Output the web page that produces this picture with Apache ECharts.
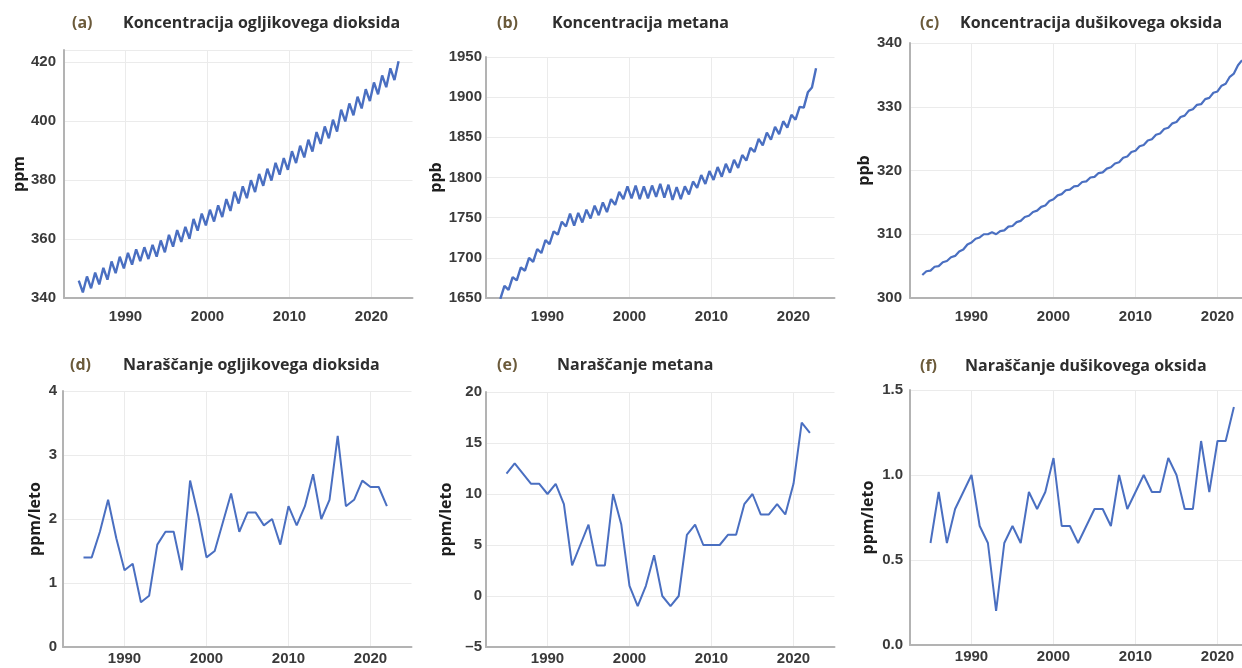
<!DOCTYPE html>
<html><head><meta charset="utf-8">
<script src="https://cdn.jsdelivr.net/npm/echarts@6/dist/echarts.min.js"></script>
<style>html,body{margin:0;padding:0;background:#fff}#c{width:1242px;height:668px}</style>
</head><body><div id="c"></div>
<script>
// ---------- data ----------
const tickYears = [1990, 2000, 2010, 2020];

// monthly concentration series, read as yearly seasonal maxima/minima
const co2Years = [1984,1985,1986,1987,1988,1989,1990,1991,1992,1993,1994,1995,1996,1997,1998,1999,2000,2001,2002,2003,2004,2005,2006,2007,2008,2009,2010,2011,2012,2013,2014,2015,2016,2017,2018,2019,2020,2021,2022,2023];
const co2Peak = [345.9,347.3,348.6,350.2,352.4,354.0,355.3,356.5,357.2,358.0,359.5,361.4,363.0,364.1,366.8,368.6,369.9,371.4,373.5,376.0,377.8,379.9,382.0,383.8,385.8,387.4,389.7,391.6,393.6,396.2,398.1,400.4,403.8,405.9,408.2,410.7,413.0,415.4,417.8,420.2];
const co2Trough = [341.9,343.3,344.6,346.2,348.4,350.0,351.3,352.5,353.2,354.0,355.5,357.4,359.0,360.1,362.8,364.6,365.9,367.4,369.5,372.0,373.8,375.9,378.0,379.8,381.8,383.4,385.7,387.6,389.6,392.2,394.1,396.4,399.8,401.9,404.2,406.7,409.0,411.4,413.8];

const ch4Years = [1984,1985,1986,1987,1988,1989,1990,1991,1992,1993,1994,1995,1996,1997,1998,1999,2000,2001,2002,2003,2004,2005,2006,2007,2008,2009,2010,2011,2012,2013,2014,2015,2016,2017,2018,2019,2020,2021,2022];
const ch4Trough = [1649,1660,1672,1684,1695,1706,1717,1729,1739,1740,1744,1749,1753,1757,1766,1773,1774,1773,1774,1776,1775,1772,1773,1779,1787,1792,1797,1801,1806,1812,1821,1832,1840,1847,1854,1862,1872,1887,1912];
const ch4Peak = [1665,1676,1688,1700,1711,1722,1733,1745,1755,1756,1760,1765,1769,1773,1782,1789,1790,1789,1790,1792,1791,1788,1789,1795,1803,1808,1813,1817,1822,1828,1837,1848,1856,1863,1870,1878,1888,1906,1936];

const n2oYears = [1984,1985,1986,1987,1988,1989,1990,1991,1992,1993,1994,1995,1996,1997,1998,1999,2000,2001,2002,2003,2004,2005,2006,2007,2008,2009,2010,2011,2012,2013,2014,2015,2016,2017,2018,2019,2020,2021,2022,2023];
const n2oJan = [303.6,304.3,305.0,305.8,306.6,307.6,308.7,309.5,310.0,310.0,310.6,311.3,312.1,312.9,313.7,314.5,315.5,316.3,317.0,317.6,318.3,319.0,319.7,320.5,321.3,322.2,323.1,324.0,324.9,325.8,326.7,327.6,328.6,329.6,330.4,331.4,332.4,333.6,335.2,337.3];
const n2oJul = [304.2,304.9,305.6,306.4,307.3,308.4,309.3,310.0,310.3,310.5,311.2,311.9,312.7,313.5,314.3,315.2,316.1,316.9,317.5,318.2,318.9,319.6,320.3,321.1,322.0,322.9,323.8,324.7,325.6,326.5,327.4,328.4,329.4,330.3,331.2,332.2,333.3,334.7,336.5];

// annual growth rates
const growthYears = [1985,1986,1987,1988,1989,1990,1991,1992,1993,1994,1995,1996,1997,1998,1999,2000,2001,2002,2003,2004,2005,2006,2007,2008,2009,2010,2011,2012,2013,2014,2015,2016,2017,2018,2019,2020,2021,2022];
const co2Growth = [1.4,1.4,1.8,2.3,1.7,1.2,1.3,0.7,0.8,1.6,1.8,1.8,1.2,2.6,2.05,1.4,1.5,1.95,2.4,1.8,2.1,2.1,1.9,2.0,1.6,2.2,1.9,2.2,2.7,2.0,2.3,3.3,2.2,2.3,2.6,2.5,2.5,2.2];
const ch4Growth = [12,13,12,11,11,10,11,9,3,5,7,3,3,10,7,1,-1,1,4,0,-1,0,6,7,5,5,5,6,6,9,10,8,8,9,8,11,17,16];
const n2oGrowth = [0.6,0.9,0.6,0.8,0.9,1.0,0.7,0.6,0.2,0.6,0.7,0.6,0.9,0.8,0.9,1.1,0.7,0.7,0.6,0.7,0.8,0.8,0.7,1.0,0.8,0.9,1.0,0.9,0.9,1.1,1.0,0.8,0.8,1.2,0.9,1.2,1.2,1.4];

const panelLetters = ['(a)','(b)','(c)','(d)','(e)','(f)'];
const panelTitles = ['Koncentracija ogljikovega dioksida','Koncentracija metana','Koncentracija dušikovega oksida','Naraščanje ogljikovega dioksida','Naraščanje metana','Naraščanje dušikovega oksida'];
const unitNames = ['ppm','ppb','ppb','ppm/leto','ppm/leto','ppm/leto'];

// ---------- build series data ----------
function seasonal(years, first, second, off1, off2) {
  const out = [];
  years.forEach((y, i) => {
    out.push([y + off1, first[i]]);
    if (second[i] !== undefined) out.push([y + off2, second[i]]);
  });
  return out;
}
const co2Data = seasonal(co2Years, co2Peak, co2Trough, 0.3, 0.8);
const ch4Data = seasonal(ch4Years, ch4Trough, ch4Peak, 0.25, 0.75);
const n2oData = seasonal(n2oYears, n2oJan, n2oJul, 0.0, 0.5);
const pair = (arr) => growthYears.map((y, i) => [y, arr[i]]);
const seriesData = [co2Data, ch4Data, n2oData, pair(co2Growth), pair(ch4Growth), pair(n2oGrowth)];

// ---------- layout ----------
const grids = [
  {left: 64,  top: 50,  height: 248},
  {left: 486, top: 57,  height: 241},
  {left: 910, top: 43,  height: 255},
  {left: 63,  top: 391, height: 256},
  {left: 486, top: 392, height: 255},
  {left: 910, top: 390, height: 255}
];
const yRanges = [
  {min: 340, max: 424, interval: 20, hideMax: true},
  {min: 1650, max: 1950, interval: 50},
  {min: 300, max: 340, interval: 10},
  {min: 0, max: 4, interval: 1},
  {min: -5, max: 20, interval: 5},
  {min: 0, max: 1.5, interval: 0.5, fixed: 1}
];
const yLabelMargin = [8, 4, 8, 6, 4, 7];
const nameGaps = [36, 40, 38, 20, 32, 34];
const xLabelMargin = [11, 11, 11, 4, 4, 4];
const titleTop = [15, 15, 15, 357, 357, 358];
const letterLeft = [72, 497, 920, 70, 497, 920];
const titleLeft = [123, 552, 960, 123, 557, 965];
const lineWidths = [2.4, 2.4, 2.2, 2, 2, 2];

const blue = '#4a6fc1';
const axisGray = '#b3b3b3';
const gridGray = '#ebebeb';
const labelFont = {fontFamily: 'Liberation Sans', fontWeight: 'bold', fontSize: 15, color: '#3a3a3a'};

const option = {
  backgroundColor: '#fff',
  animation: false,
  title: [],
  grid: [],
  xAxis: [],
  yAxis: [],
  series: []
};

for (let k = 0; k < 6; k++) {
  const g = grids[k];
  option.grid.push({left: g.left, top: g.top, width: 348.5, height: g.height,
    containLabel: false, outerBoundsMode: 'none', show: false});
  option.title.push({text: panelLetters[k], left: letterLeft[k], top: titleTop[k], padding: 0,
    textStyle: {fontFamily: 'Open Sans', fontWeight: 'bold', fontSize: 16, color: '#6b5a3a'}});
  option.title.push({text: panelTitles[k], left: titleLeft[k], top: titleTop[k], padding: 0,
    textStyle: {fontFamily: 'Open Sans', fontWeight: 'bold', fontSize: 16, color: '#2e2e2e'}});
  option.xAxis.push({
    type: 'value', gridIndex: k, min: 1982.5, max: 2025,
    axisLine: {show: true, onZero: false, lineStyle: {color: axisGray, width: 2}},
    axisTick: {show: false, customValues: tickYears},
    axisLabel: Object.assign({customValues: tickYears, margin: xLabelMargin[k], formatter: v => String(v)}, labelFont),
    splitLine: {show: true, lineStyle: {color: gridGray, width: 1}}
  });
  const r = yRanges[k];
  option.yAxis.push({
    type: 'value', gridIndex: k, min: r.min, max: r.max, interval: r.interval,
    name: unitNames[k], nameLocation: 'middle', nameGap: nameGaps[k],
    nameTextStyle: {fontFamily: 'Open Sans', fontWeight: 'bold', fontSize: 16, color: '#1e1e1e'},
    axisLine: {show: true, lineStyle: {color: axisGray, width: 2}},
    axisTick: {show: false},
    axisLabel: Object.assign({margin: yLabelMargin[k], showMaxLabel: !r.hideMax,
      formatter: v => (r.fixed ? v.toFixed(r.fixed) : String(v)).replace('-', '\u2013')}, labelFont),
    splitLine: {show: true, lineStyle: {color: gridGray, width: 1}}
  });
  option.series.push({
    type: 'line', xAxisIndex: k, yAxisIndex: k, data: seriesData[k],
    symbol: 'none', smooth: false, clip: true,
    lineStyle: {color: blue, width: lineWidths[k]}
  });
}

const chart = echarts.init(document.getElementById('c'), null, {renderer: 'canvas'});
chart.setOption(option);
</script>
</body></html>
